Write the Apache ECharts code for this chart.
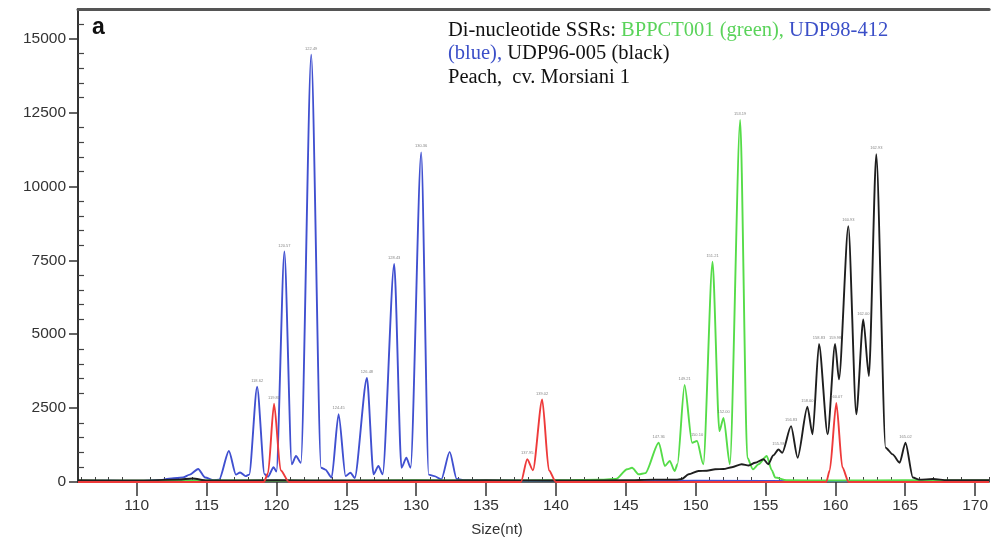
<!DOCTYPE html>
<html><head><meta charset="utf-8">
<script src="https://cdn.jsdelivr.net/npm/echarts@6/dist/echarts.min.js"></script>
<style>html,body{margin:0;padding:0;background:#fff}#c{width:991px;height:541px}</style>
</head><body><div id="c"></div>
<script>
// ---- data (size in nt, fluorescence units) ----
const xTickLabels = [110,115,120,125,130,135,140,145,150,155,160,165,170];
const xMinorTicks = [106,107,108,109,111,112,113,114,116,117,118,119,121,122,123,124,126,127,128,129,131,132,133,134,136,137,138,139,141,142,143,144,146,147,148,149,151,152,153,154,156,157,158,159,161,162,163,164,166,167,168,169,171];
const yTickLabels = [0,2500,5000,7500,10000,12500,15000];
const yMinorTicks = [500,1000,1500,2000,3000,3500,4000,4500,5500,6000,6500,7000,8000,8500,9000,9500,10500,11000,11500,12000,13000,13500,14000,14500,15500];

const blueTrace = [[105.8,30],[108,40],[110,30],[111.5,60],[112.5,120],[113.3,150],[113.8,250],[114.4,440],[114.9,150],[115.5,60],[115.9,80],[116.6,1050],[117.1,250],[117.4,320],[117.8,200],[118.05,250],[118.62,3220],[119.15,260],[119.4,180],[119.8,500],[120.0,350],[120.57,7800],[121.1,600],[121.4,880],[121.75,650],[122.49,14450],[123.2,480],[123.5,420],[123.95,150],[124.45,2290],[124.95,200],[125.3,315],[125.6,135],[126.48,3520],[126.95,260],[127.3,540],[127.6,260],[128.43,7380],[128.95,480],[129.3,820],[129.6,480],[130.36,11150],[130.9,250],[131.3,200],[131.8,90],[132.4,1020],[132.9,100],[133.5,60],[135,40],[140,40],[145,30],[150,40],[160,30],[171,30]];
const redTrace = [[105.8,0],[119.1,0],[119.4,300],[119.83,2645],[120.3,400],[120.9,0],[137.5,0],[137.95,770],[138.36,395],[139.02,2790],[139.5,400],[140.0,0],[159.35,0],[159.6,400],[160.07,2670],[160.5,500],[160.95,0],[171,0]];
const greenTrace = [[105.8,40],[115,50],[120,50],[125,40],[130,60],[135,50],[140,60],[143,80],[144.3,100],[145.1,430],[145.45,480],[145.93,260],[146.4,300],[147.36,1330],[147.8,540],[148.15,710],[148.5,370],[148.7,600],[149.21,3280],[149.75,1330],[150.1,1385],[150.55,600],[151.21,7450],[151.7,1720],[152.0,2170],[152.45,600],[153.19,12250],[153.7,820],[154.1,430],[154.5,600],[155.09,880],[155.45,400],[155.7,150],[156.5,60],[160,50],[165,60],[171,50]];
const blackTrace = [[105.8,60],[110,50],[113,80],[114,120],[115,50],[120,60],[125,50],[130,50],[135,60],[140,50],[145,60],[147,80],[148.6,80],[149.0,100],[149.5,260],[150.2,370],[150.8,380],[151.4,430],[152.0,440],[152.6,500],[153.3,600],[153.8,560],[154.26,650],[154.86,770],[155.2,600],[155.55,900],[155.93,1100],[156.2,990],[156.83,1890],[157.3,820],[158.0,2545],[158.37,1610],[158.83,4670],[159.45,1610],[159.98,4670],[160.26,3470],[160.93,8650],[161.5,2290],[162.0,5500],[162.4,3580],[162.93,11090],[163.6,1160],[164.1,935],[164.6,650],[165.02,1330],[165.55,150],[166,80],[167,100],[168,60],[171,60]];

const bluePeaks = [[118.62,3220],[120.57,7800],[122.49,14450],[124.45,2290],[126.48,3520],[128.43,7380],[130.36,11150]];
const redPeaks = [[119.83,2645],[137.95,770],[139.02,2790],[160.07,2670]];
const greenPeaks = [[147.36,1330],[149.21,3280],[150.1,1385],[151.21,7450],[152.0,2170],[153.19,12250]];
const blackPeaks = [[155.93,1100],[156.83,1890],[158.0,2545],[158.83,4670],[159.98,4670],[160.93,8650],[162.0,5500],[162.93,11090],[165.02,1330]];

const X_MIN = 105.8, X_MAX = 171.01, Y_MAX = 16000;

const chart = echarts.init(document.getElementById('c'));
const axisColor = '#333';
function lineSeries(name, data, color, z){
  return {name, type:'line', data, xAxisIndex:0, yAxisIndex:0, symbol:'none', smooth:0.25, smoothMonotone:'x',
    lineStyle:{color, width:1.9}, z, silent:true, animation:false};
}
function peakLabels(data, z){
  return {type:'scatter', data, xAxisIndex:0, yAxisIndex:0, symbolSize:0, z, silent:true, animation:false,
    label:{show:true, position:'top', distance:4, fontSize:4, color:'#666', fontFamily:'Liberation Sans',
      formatter:p=>p.value[0].toFixed(2)}};
}
const serif = '20.5px "Liberation Serif"';
chart.setOption({
  animation:false,
  grid:{left:78, right:0, top:9, bottom:59, containLabel:false},
  xAxis:[
    {type:'value', min:X_MIN, max:X_MAX, position:'bottom',
     axisLine:{show:true, onZero:false, lineStyle:{color:axisColor, width:1.5}},
     axisTick:{show:true, customValues:xTickLabels, length:14, lineStyle:{color:axisColor, width:1.5}},
     axisLabel:{show:true, customValues:xTickLabels, fontSize:15.5, color:'#333', fontFamily:'Liberation Sans', margin:16},
     splitLine:{show:false}},
    {type:'value', min:X_MIN, max:X_MAX, position:'bottom',
     axisLine:{show:false, onZero:false}, axisLabel:{show:false}, splitLine:{show:false},
     axisTick:{show:true, inside:true, customValues:xMinorTicks, length:5, lineStyle:{color:'#444', width:1}}},
    {type:'value', min:X_MIN, max:X_MAX, position:'top',
     axisLine:{show:true, onZero:false, lineStyle:{color:'#555', width:3}}, axisTick:{show:false}, axisLabel:{show:false}, splitLine:{show:false}}
  ],
  yAxis:[
    {type:'value', min:0, max:Y_MAX, position:'left',
     axisLine:{show:true, onZero:false, lineStyle:{color:axisColor, width:2}},
     axisTick:{show:true, customValues:yTickLabels, length:9, lineStyle:{color:axisColor, width:1.5}},
     axisLabel:{show:true, customValues:yTickLabels, fontSize:15.5, color:'#333', fontFamily:'Liberation Sans', margin:12,
       formatter:v=>String(v)},
     splitLine:{show:false}},
    {type:'value', min:0, max:Y_MAX, position:'left',
     axisLine:{show:false, onZero:false}, axisLabel:{show:false}, splitLine:{show:false},
     axisTick:{show:true, inside:true, customValues:yMinorTicks, length:6, lineStyle:{color:'#444', width:1.2}}}
  ],
  series:[
    lineSeries('UDP98-412', blueTrace, '#4050d0', 3),
    lineSeries('BPPCT001', greenTrace, '#55dc48', 4),
    lineSeries('UDP96-005', blackTrace, '#1e1e1e', 5),
    lineSeries('size standard', redTrace, '#ee3a3a', 6),
    peakLabels(bluePeaks, 7), peakLabels(greenPeaks, 7), peakLabels(blackPeaks, 7), peakLabels(redPeaks, 7)
  ],
  graphic:[
    {type:'text', left:92, top:16, style:{text:'a', font:'bold 23px "Liberation Sans"', fill:'#111'}},
    {type:'text', x:497, y:530, style:{text:'Size(nt)', font:'15px "Liberation Sans"', fill:'#333', align:'center', verticalAlign:'middle'}},
    {type:'text', left:448, top:20, style:{
      text:'{k|Di-nucleotide SSRs: }{g|BPPCT001 (green), }{b|UDP98-412}',
      rich:{k:{font:serif, fill:'#111'}, g:{font:serif, fill:'#5ad35a'}, b:{font:serif, fill:'#3b4fc8'}}}},
    {type:'text', left:448, top:43.5, style:{
      text:'{b|(blue), }{k|UDP96-005 (black)}',
      rich:{k:{font:serif, fill:'#111'}, b:{font:serif, fill:'#3b4fc8'}}}},
    {type:'text', left:448, top:67, style:{text:'Peach,  cv. Morsiani 1', font:serif, fill:'#111'}}
  ]
});
</script></body></html>
